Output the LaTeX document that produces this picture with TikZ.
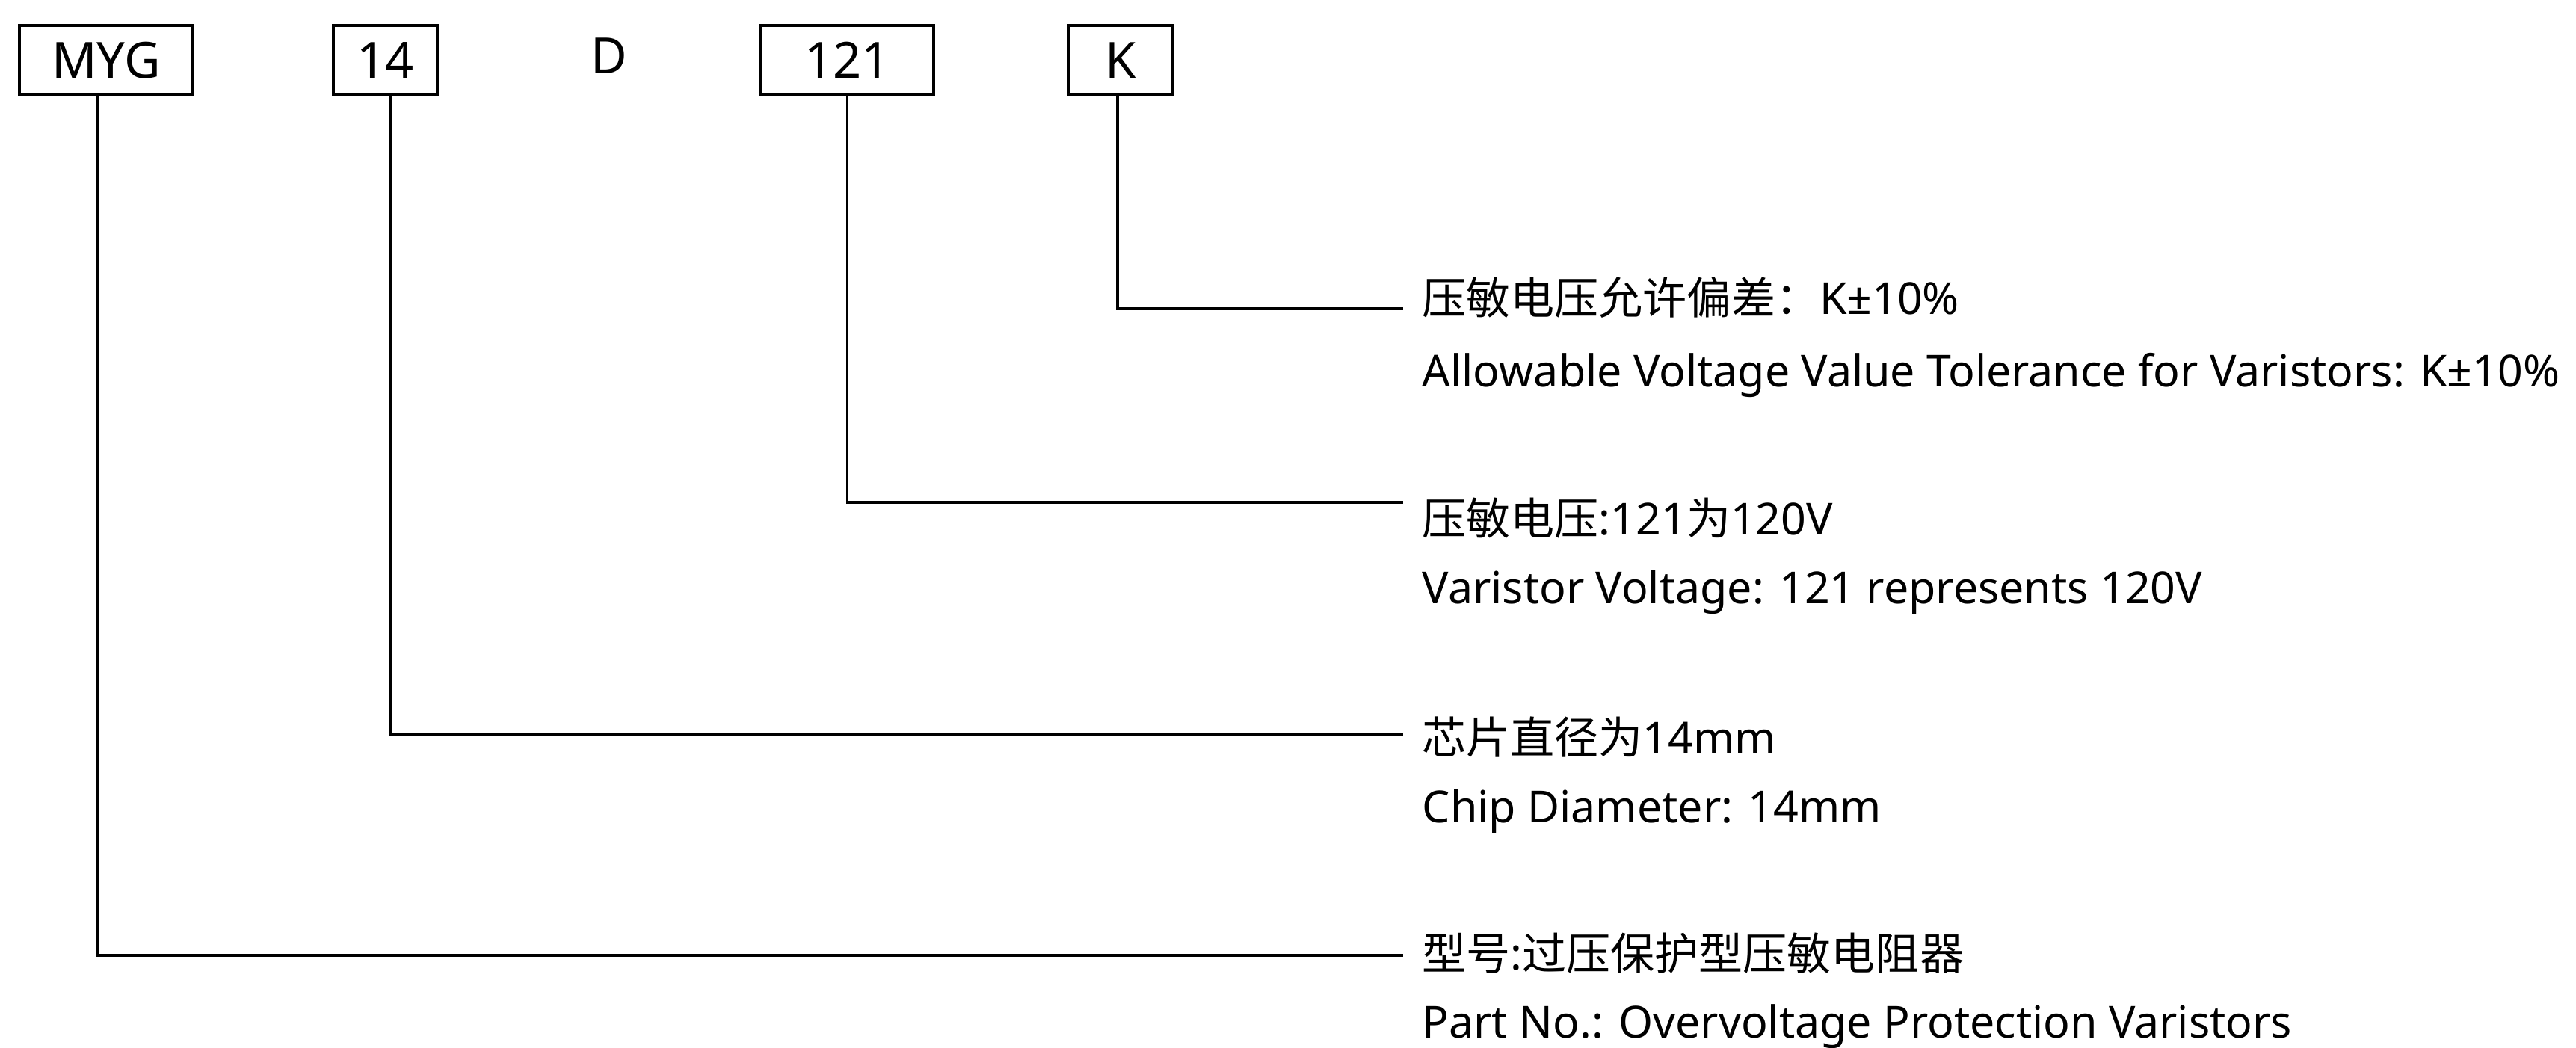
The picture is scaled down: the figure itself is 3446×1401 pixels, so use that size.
\documentclass[tikz,border=0pt]{standalone}
\usepackage{fontspec}
\setmainfont{Noto Sans}
\newfontfamily\cjk{Noto Sans CJK SC}
\usepackage{tikz}
\usetikzlibrary{positioning}

\begin{document}
\begin{tikzpicture}[
    x=0.1mm, y=-0.1mm,
    font=\fontsize{16.8}{20}\selectfont,
    code/.style={draw, line width=0.33mm, minimum height=9.3mm, inner sep=0pt,
                 font=\fontsize{19}{22}\selectfont},
    desc/.style={anchor=base west, inner sep=0pt},
    lead/.style={line width=0.33mm},
  ]
  \useasboundingbox (0,0) rectangle (3446,1401);

  % part number blocks
  \node[code, minimum width=23.2mm] (myg) at (142,80.5) {MYG};
  \node[code, minimum width=13.9mm] (dia) at (515.5,80.5) {14};
  \node[inner sep=0pt, anchor=base, font=\fontsize{19}{22}\selectfont] (d) at (814.5,98) {D};
  \node[code, minimum width=23.1mm] (volt) at (1133.5,80.5) {121};
  \node[code, minimum width=14mm] (tol) at (1499,80.5) {K};

  % descriptions
  \node[desc] (tolzh) at (1902,420) {{\cjk 压敏电压允许偏差：}K±10\%};
  \node[desc] (tolen) at (1902,517) {Allowable Voltage Value Tolerance for Varistors: K±10\%};
  \node[desc] (voltzh) at (1902,715) {{\cjk 压敏电压}:121{\cjk 为}120V};
  \node[desc] (volten) at (1902,807) {Varistor Voltage: 121 represents 120V};
  \node[desc] (diazh) at (1902,1008) {{\cjk 芯片直径为}14mm};
  \node[desc] (diaen) at (1902,1100) {Chip Diameter: 14mm};
  \node[desc] (mygzh) at (1902,1297) {{\cjk 型号}:{\cjk 过压保护型压敏电阻器}};
  \node[desc] (mygen) at (1902,1388) {Part No.: Overvoltage Protection Varistors};

  % leader ends
  \coordinate (tolend) at (1877,413);
  \coordinate (voltend) at (1877,672);
  \coordinate (diaend) at (1877,982);
  \coordinate (mygend) at (1877,1278);

  \draw[lead] ([xshift=-0.4mm]tol.south) |- (tolend);
  \draw[lead] (volt.south) |- (voltend);
  \draw[lead] ([xshift=0.65mm]dia.south) |- (diaend);
  \draw[lead] ([xshift=-1.2mm]myg.south) |- (mygend);
\end{tikzpicture}
\end{document}
